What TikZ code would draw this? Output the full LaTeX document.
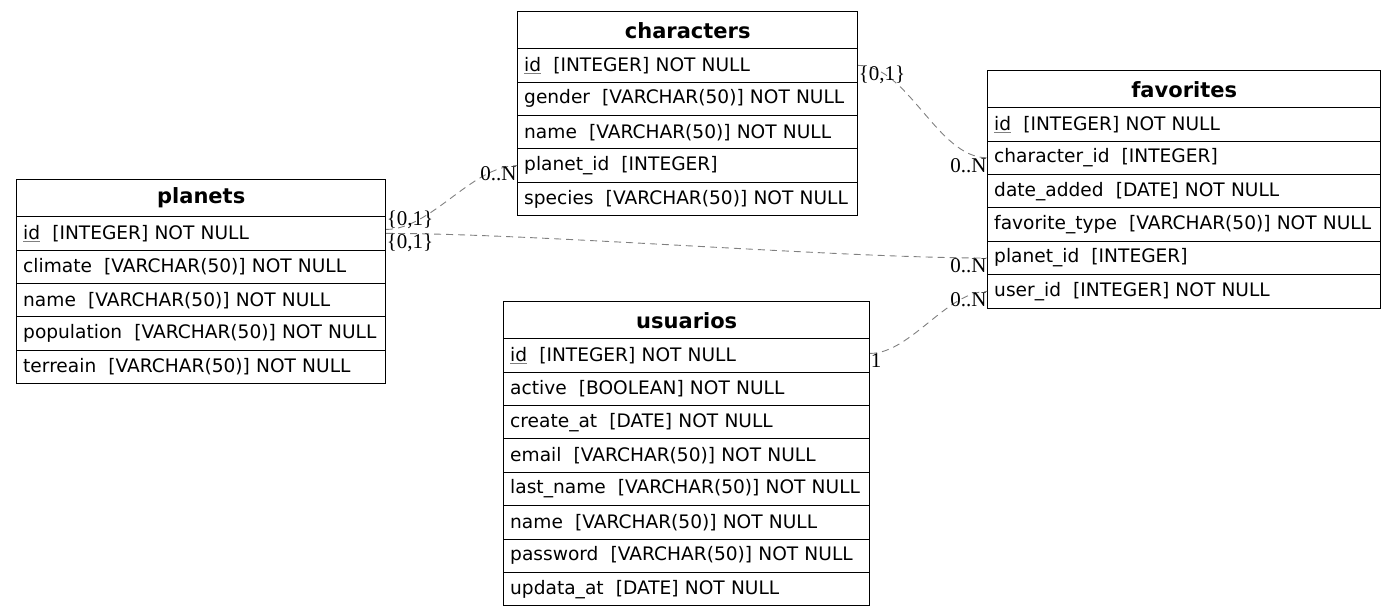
\documentclass[tikz,border=0pt]{standalone}
\usepackage{fontspec}
\setmainfont{DejaVu Sans}
\newfontfamily\cardfont{Liberation Serif}
\usepackage{xcolor}
\usetikzlibrary{matrix}

\newcommand{\pk}[1]{{\color{gray}\underline{\color{black}#1}}}
\newcommand{\typegap}{\hspace{0.65em}}

\begin{document}
\begin{tikzpicture}[x=1pt,y=-1pt,
    tbl/.style={matrix of nodes,row sep=-1pt,anchor=north west,inner sep=0pt,
      nodes={draw,line width=1pt,minimum height=33.4pt,inner xsep=6.5pt,inner ysep=0pt,
        align=left,text width=#1,font=\fontsize{18.6}{22}\selectfont}},
    hd/.style={minimum height=37pt,align=center,font=\fontsize{21}{24}\selectfont\bfseries},
    rel/.style={draw=gray,dash pattern=on 7pt off 5pt,line width=0.9pt},
    card/.style={font=\cardfont\fontsize{21}{24}\selectfont,inner sep=0.5pt}]
  \useasboundingbox (0,0) rectangle (1396,615);

  % tables
  \matrix (planets) [tbl=356pt] at (16,179)
    {
      |[hd]| planets \\
      \pk{id}\typegap[INTEGER] NOT NULL \\
      climate\typegap[VARCHAR(50)] NOT NULL \\
      name\typegap[VARCHAR(50)] NOT NULL \\
      population\typegap[VARCHAR(50)] NOT NULL \\
      terreain\typegap[VARCHAR(50)] NOT NULL \\};
  \matrix (characters) [tbl=327pt] at (517,11)
    {
      |[hd]| characters \\
      \pk{id}\typegap[INTEGER] NOT NULL \\
      gender\typegap[VARCHAR(50)] NOT NULL \\
      name\typegap[VARCHAR(50)] NOT NULL \\
      planet\_id\typegap[INTEGER] \\
      species\typegap[VARCHAR(50)] NOT NULL \\};
  \matrix (favorites) [tbl=380pt] at (987,70)
    {
      |[hd]| favorites \\
      \pk{id}\typegap[INTEGER] NOT NULL \\
      character\_id\typegap[INTEGER] \\
      date\_added\typegap[DATE] NOT NULL \\
      favorite\_type\typegap[VARCHAR(50)] NOT NULL \\
      planet\_id\typegap[INTEGER] \\
      user\_id\typegap[INTEGER] NOT NULL \\};
  \matrix (usuarios) [tbl=353pt] at (503,301)
    {
      |[hd]| usuarios \\
      \pk{id}\typegap[INTEGER] NOT NULL \\
      active\typegap[BOOLEAN] NOT NULL \\
      create\_at\typegap[DATE] NOT NULL \\
      email\typegap[VARCHAR(50)] NOT NULL \\
      last\_name\typegap[VARCHAR(50)] NOT NULL \\
      name\typegap[VARCHAR(50)] NOT NULL \\
      password\typegap[VARCHAR(50)] NOT NULL \\
      updata\_at\typegap[DATE] NOT NULL \\};

  % relations
  \path[rel]
    ([yshift=4pt]planets-2-1.east) .. controls +(45,0) and +(-45,0) .. (characters-5-1.west)
    (planets-2-1.east) .. controls +(150,0) and +(-150,0) .. (favorites-6-1.west)
    (characters-2-1.east) .. controls +(50,0) and +(-50,0) .. (favorites-3-1.west)
    ([yshift=2pt]usuarios-2-1.east) .. controls +(40,0) and +(-40,0) .. (favorites-7-1.west);

  % cardinalities
  \node[card,anchor=south west] (pc) at ([yshift=4pt]planets-2-1.east) {\{0,1\}};
  \node[card,anchor=north west] (pf) at (planets-2-1.east) {\{0,1\}};
  \node[card,anchor=north west] (cf) at (characters-2-1.east) {\{0,1\}};
  \node[card,anchor=north west] (uf) at ([yshift=2pt]usuarios-2-1.east) {1};
  \node[card,anchor=north east] (cp) at (characters-5-1.west) {0..N};
  \node[card,anchor=north east] (fc) at (favorites-3-1.west) {0..N};
  \node[card,anchor=north east] (fp) at (favorites-6-1.west) {0..N};
  \node[card,anchor=north east] (fu) at (favorites-7-1.west) {0..N};
\end{tikzpicture}
\end{document}
